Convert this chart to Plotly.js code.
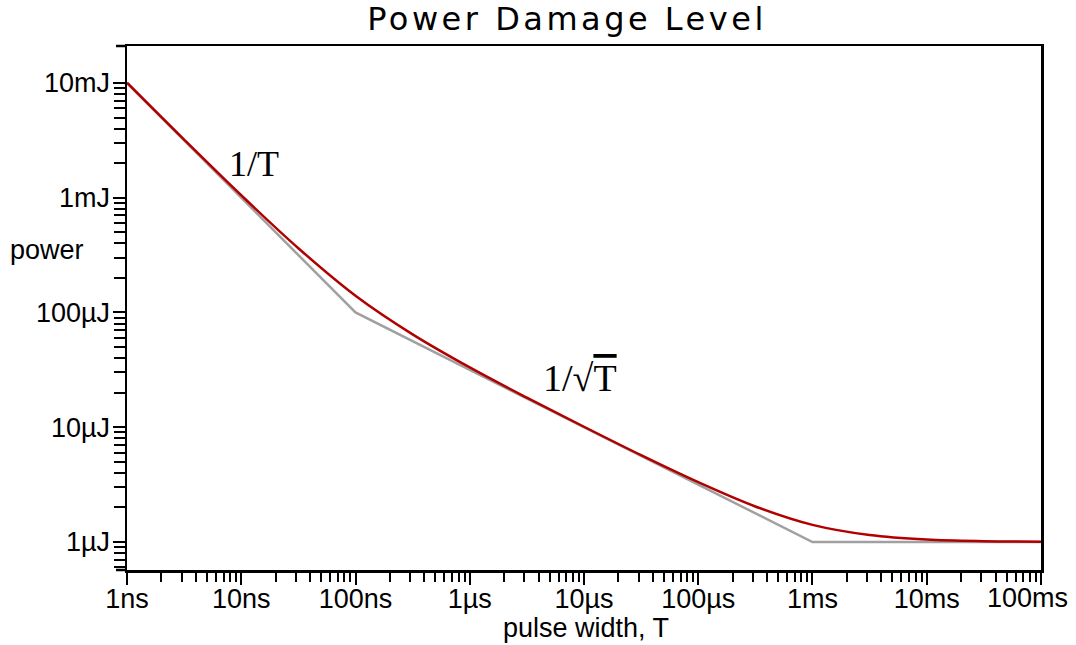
<!DOCTYPE html>
<html>
<head>
<meta charset="utf-8">
<script src="https://cdn.plot.ly/plotly-3.0.1.min.js"></script>
<style>
  html, body { margin: 0; padding: 0; background: #fff; }
  #chart { width: 1076px; height: 645px; }
  .gtitle { letter-spacing: 3.5px; }
</style>
</head>
<body>
<div id="chart"></div>
<script>
// Pulse width (s) and damage energy (J)
const asymptoteT = [1e-9, 1e-7, 1e-3, 1e-1];
const asymptoteE = [1e-2, 1e-4, 1e-6, 1e-6];

const curveT = [1e-9, 3.16e-9, 1e-8, 3.16e-8, 1e-7, 3.16e-7, 1e-6, 3.16e-6, 1e-5, 3.16e-5, 1e-4, 3.16e-4, 1e-3, 3.16e-3, 1e-2, 3.16e-2, 1e-1];
const curveE = [1.005e-2, 3.21e-3, 1.05e-3, 3.63e-4, 1.40e-4, 6.45e-5, 3.32e-5, 1.81e-5, 1.01e-5, 5.71e-6, 3.32e-6, 2.04e-6, 1.41e-6, 1.15e-6, 1.05e-6, 1.016e-6, 1.005e-6];

const xTickVals = [1e-9, 1e-8, 1e-7, 1e-6, 1e-5, 1e-4, 1e-3, 1e-2, 1e-1];
const xTickText = ['1ns', '10ns', '100ns', '1µs', '10µs', '100µs', '1ms', '10ms', '100ms'];
const yTickVals = [1e-6, 1e-5, 1e-4, 1e-3, 1e-2];
const yTickText = ['1µJ', '10µJ', '100µJ', '1mJ', '10mJ'];

function minorTicks(decades, extra) {
  const out = [];
  decades.forEach(d => { for (let k = 2; k <= 9; k++) out.push(k * d); });
  return out.concat(extra || []);
}
const xMinor = minorTicks([1e-9, 1e-8, 1e-7, 1e-6, 1e-5, 1e-4, 1e-3, 1e-2]);
const yMinor = minorTicks([1e-6, 1e-5, 1e-4, 1e-3], [6e-7, 7e-7, 8e-7, 9e-7]);

// the last x label sits pulled in from the right edge, as in the picture
const lastIdx = xTickText.length - 1;
const xTickTextShown = xTickText.map((t, i) => (i === lastIdx ? '' : t));

const traces = [
  { x: asymptoteT, y: asymptoteE, type: 'scatter', mode: 'lines',
    line: { color: '#a0a0a0', width: 2.5 }, hoverinfo: 'skip' },
  { x: curveT, y: curveE, type: 'scatter', mode: 'lines',
    line: { color: '#b00000', width: 2.5, shape: 'spline', smoothing: 1 }, hoverinfo: 'skip' }
];

const tickFont = { family: 'Liberation Sans, Arial, sans-serif', size: 27, color: '#000' };

const layout = {
  width: 1076, height: 645,
  margin: { l: 127, r: 35, t: 46, b: 75 },
  paper_bgcolor: '#fff', plot_bgcolor: '#fff',
  showlegend: false,
  title: {
    text: 'Power Damage Level',
    font: { family: 'DejaVu Sans, sans-serif', size: 32, color: '#000' },
    x: 567 / 1076, xref: 'container', xanchor: 'center',
    y: 1 - 19 / 645, yref: 'container', yanchor: 'middle'
  },
  xaxis: {
    type: 'log', range: [-9, -0.9999],
    tickmode: 'array', tickvals: xTickVals, ticktext: xTickTextShown,
    ticks: 'outside', ticklen: 12, tickwidth: 2, tickcolor: '#000',
    ticklabelstandoff: -9, ticklabeloverflow: 'allow',
    minor: { tickmode: 'array', tickvals: xMinor, ticks: 'outside', ticklen: 9, tickwidth: 2, tickcolor: '#000', showgrid: false },
    showgrid: false, zeroline: false,
    showline: true, linewidth: 2.5, linecolor: '#000', mirror: true,
    tickfont: tickFont
  },
  yaxis: {
    type: 'log', range: [-6.244, -1.678],
    tickmode: 'array', tickvals: yTickVals, ticktext: yTickText,
    ticks: 'outside', ticklen: 12, tickwidth: 2, tickcolor: '#000',
    ticklabelstandoff: -3, ticklabeloverflow: 'allow',
    minor: { tickmode: 'array', tickvals: yMinor, ticks: 'outside', ticklen: 11, tickwidth: 2, tickcolor: '#000', showgrid: false },
    showgrid: false, zeroline: false,
    showline: true, linewidth: 2.5, linecolor: '#000', mirror: true,
    tickfont: tickFont
  },
  shapes: [
    { type: 'line', xref: 'paper', yref: 'paper', x0: -11 / 914, x1: 0, y0: 0, y1: 0, line: { color: '#000', width: 2.5 } },
    { type: 'line', xref: 'paper', yref: 'paper', x0: -11 / 914, x1: 0, y0: 1, y1: 1, line: { color: '#000', width: 2.5 } }
  ],
  annotations: [
    { text: xTickText[lastIdx], xref: 'paper', yref: 'paper', x: 1, y: -(598 - 570) / 524,
      xanchor: 'right', yanchor: 'middle', xshift: 29, showarrow: false, font: tickFont },
    { text: 'pulse width, T', xref: 'paper', yref: 'paper', x: (586 - 127) / 914, y: -(628 - 570) / 524,
      xanchor: 'center', yanchor: 'middle', showarrow: false, font: tickFont },
    { text: 'power', xref: 'paper', yref: 'paper', x: -119 / 914, y: (570 - 250) / 524,
      xanchor: 'left', yanchor: 'middle', showarrow: false, font: tickFont },
    { text: '1/T', xref: 'x', yref: 'y', x: -7.888, y: -2.706,
      xanchor: 'center', yanchor: 'middle', showarrow: false,
      font: { family: 'Liberation Serif, Times New Roman, serif', size: 36, color: '#000' } },
    { text: '1/√<span style="text-decoration:overline">T</span>', xref: 'x', yref: 'y', x: -5.035, y: -4.571,
      xanchor: 'center', yanchor: 'middle', showarrow: false,
      font: { family: 'Liberation Serif, Times New Roman, serif', size: 38, color: '#000' } }
  ]
};

Plotly.newPlot('chart', traces, layout, { staticPlot: true, displayModeBar: false });
</script>
</body>
</html>
